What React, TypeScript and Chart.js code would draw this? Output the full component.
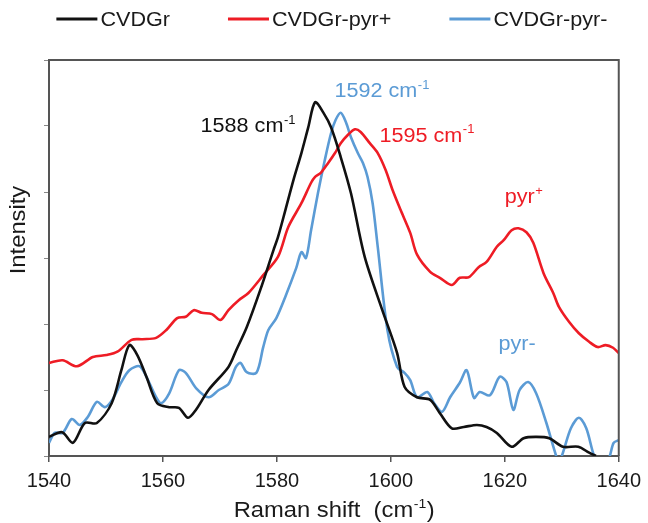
import React, { useEffect, useRef } from 'react';
import { Chart, registerables } from 'chart.js';

Chart.register(...registerables);

// ---------- data (Raman shift in cm^-1, intensity in arbitrary units) ----------
const shiftBlack = [1540, 1542.3, 1544.2, 1546.3, 1548.4, 1551.0, 1552.7, 1554.1, 1555.5, 1557.1, 1559.0, 1561.1, 1562.8, 1564.4, 1565.8, 1568.0, 1571.5, 1572.9, 1574.7, 1577.1, 1579.4, 1580.2, 1581.5, 1582.9, 1584.3, 1585.5, 1586.7, 1588.1, 1589.5, 1591.2, 1593.0, 1595.4, 1598.5, 1601.1, 1602.4, 1604.6, 1606.9, 1608.6, 1610.7, 1612.8, 1615.1, 1616.8, 1618.6, 1621.2, 1623.3, 1625.5, 1627.8, 1630.2, 1632.9, 1634.8, 1636.0];
const intensityBlack = [0.29, 0.36, 0.20, 0.50, 0.50, 0.80, 1.30, 1.68, 1.53, 1.20, 0.80, 0.74, 0.73, 0.58, 0.70, 1.00, 1.35, 1.61, 1.95, 2.52, 3.12, 3.32, 3.73, 4.18, 4.59, 4.98, 5.36, 5.21, 4.98, 4.53, 3.98, 3.02, 2.21, 1.56, 1.05, 0.89, 0.85, 0.65, 0.42, 0.44, 0.47, 0.44, 0.35, 0.14, 0.27, 0.29, 0.27, 0.14, 0.14, 0.05, 0.0];

const shiftRed = [1540, 1542.4, 1544.9, 1547.7, 1550.1, 1552.0, 1554.5, 1556.4, 1558.8, 1560.6, 1562.5, 1564.0, 1565.4, 1566.8, 1568.6, 1570.1, 1571.5, 1573.3, 1575.0, 1577.6, 1580.2, 1582.0, 1584.3, 1586.0, 1586.7, 1587.7, 1589.0, 1590.2, 1591.2, 1592.4, 1593.7, 1594.7, 1596.3, 1597.7, 1599.1, 1600.3, 1601.7, 1603.4, 1604.6, 1606.9, 1608.6, 1610.7, 1612.1, 1613.7, 1615.4, 1616.8, 1618.6, 1619.8, 1621.2, 1622.4, 1623.8, 1625.0, 1626.8, 1628.5, 1629.5, 1631.3, 1633.0, 1634.8, 1636.3, 1637.7, 1639.0, 1640.0];
const intensityRed = [1.41, 1.45, 1.36, 1.50, 1.53, 1.58, 1.76, 1.77, 1.79, 1.91, 2.09, 2.11, 2.21, 2.17, 2.15, 2.06, 2.21, 2.36, 2.47, 2.74, 3.02, 3.47, 3.83, 4.14, 4.23, 4.29, 4.44, 4.59, 4.74, 4.86, 4.95, 4.91, 4.74, 4.59, 4.33, 4.03, 3.73, 3.38, 3.05, 2.79, 2.70, 2.59, 2.70, 2.71, 2.86, 2.94, 3.17, 3.27, 3.42, 3.45, 3.39, 3.23, 2.77, 2.47, 2.26, 2.03, 1.86, 1.73, 1.65, 1.68, 1.64, 1.56];

const shiftBlue = [1540, 1541.0, 1542.4, 1544.0, 1545.4, 1546.8, 1548.4, 1549.8, 1551.1, 1552.7, 1554.1, 1555.9, 1557.1, 1558.8, 1559.7, 1561.1, 1562.8, 1564.0, 1565.8, 1568.0, 1569.8, 1571.5, 1572.8, 1573.6, 1574.7, 1576.4, 1577.6, 1578.5, 1579.9, 1581.6, 1583.4, 1584.3, 1585.1, 1586.0, 1587.2, 1588.4, 1589.5, 1590.3, 1591.2, 1592.1, 1593.0, 1594.2, 1595.1, 1595.9, 1596.8, 1597.7, 1599.4, 1601.1, 1602.4, 1603.4, 1604.6, 1606.4, 1607.6, 1609.0, 1610.4, 1612.1, 1613.3, 1614.6, 1615.6, 1617.4, 1619.1, 1620.3, 1621.5, 1622.6, 1624.1, 1625.5, 1627.3, 1628.7, 1629.5, 1630.2, 1631.6, 1633.0, 1634.3, 1635.6, 1636.9, 1638.3, 1639.1, 1640.0];
const intensityBlue = [0.20, 0.35, 0.35, 0.56, 0.47, 0.59, 0.82, 0.74, 0.85, 1.12, 1.30, 1.36, 1.20, 0.89, 0.80, 0.95, 1.30, 1.26, 1.03, 0.89, 1.00, 1.09, 1.35, 1.41, 1.27, 1.26, 1.65, 1.91, 2.09, 2.44, 2.85, 3.09, 3.00, 3.42, 3.98, 4.48, 4.89, 5.09, 5.20, 5.06, 4.83, 4.59, 4.44, 4.23, 3.83, 3.17, 1.91, 1.35, 1.26, 1.15, 0.89, 0.97, 0.80, 0.67, 0.89, 1.11, 1.30, 0.88, 0.97, 0.92, 1.20, 1.12, 0.70, 1.00, 1.12, 0.95, 0.50, 0.09, -0.09, 0.05, 0.42, 0.58, 0.42, 0.02, -0.21, -0.03, 0.20, 0.24];

const seriesNames = ['CVDGr', 'CVDGr-pyr+', 'CVDGr-pyr-'];
const seriesColors = ['#111111', '#ee1c25', '#5b9bd5'];
const xTickValues = [1540, 1560, 1580, 1600, 1620, 1640];

// peak annotations
const labelTexts = ['1588 cm', '1592 cm', '1595 cm', 'pyr', 'pyr-'];
const labelSups = ['-1', '-1', '-1', '+', ''];
const labelShifts = [1566.6, 1590.1, 1598.0, 1620.0, 1618.9];
const labelIntensities = [4.91, 5.44, 4.76, 3.83, 1.61];
const labelColorIdx = [0, 2, 1, 1, 2];

const FONT = '"Liberation Sans", Arial, Helvetica, sans-serif';
const STRETCH = 1.08;
const TEXT_COLOR = '#1a1a1a';

function toPoints(xs: number[], ys: number[]) {
  return xs.map((x, i) => ({ x, y: ys[i] }));
}

function drawRich(ctx: CanvasRenderingContext2D, base: string, sup: string, tail: string, x: number, y: number, size: number, color: string, align: 'left' | 'center') {
  ctx.save();
  ctx.fillStyle = color;
  ctx.textBaseline = 'alphabetic';
  ctx.textAlign = 'left';
  const supSize = Math.round(size * 0.6);
  ctx.font = `${size}px ${FONT}`;
  const wBase = ctx.measureText(base).width;
  const wTail = tail ? ctx.measureText(tail).width : 0;
  ctx.font = `${supSize}px ${FONT}`;
  const wSup = sup ? ctx.measureText(sup).width + 0.5 : 0;
  const total = (wBase + wSup + wTail) * STRETCH;
  const startX = align === 'center' ? x - total / 2 : x;
  ctx.translate(startX, y);
  ctx.scale(STRETCH, 1);
  ctx.font = `${size}px ${FONT}`;
  ctx.fillText(base, 0, 0);
  if (sup) {
    ctx.font = `${supSize}px ${FONT}`;
    ctx.fillText(sup, wBase + 0.5, -size * 0.42);
  }
  if (tail) {
    ctx.font = `${size}px ${FONT}`;
    ctx.fillText(tail, wBase + wSup + 0.5, 0);
  }
  ctx.restore();
}

const decorPlugin = {
  id: 'decor',
  afterDraw(chart: any) {
    const { ctx, chartArea, scales } = chart;
    const { left, right, top, bottom } = chartArea;
    // frame top and right
    ctx.save();
    ctx.strokeStyle = '#555555';
    ctx.lineWidth = 2;
    ctx.beginPath();
    ctx.moveTo(left - 1, top);
    ctx.lineTo(right, top);
    ctx.lineTo(right, bottom);
    ctx.stroke();
    ctx.restore();

    // legend
    const fs = 20;
    ctx.save();
    ctx.font = `${fs}px ${FONT}`;
    const lineLen = 41;
    const gapAfterLine = 3;
    const itemGap = 58;
    const widths = seriesNames.map((n) => ctx.measureText(n).width * STRETCH);
    const totalW = widths.reduce((a, w) => a + lineLen + gapAfterLine + w, 0) + itemGap * (seriesNames.length - 1);
    let cx = (left + right) / 2 - totalW / 2 - 2;
    const ly = 19;
    seriesNames.forEach((name, i) => {
      ctx.strokeStyle = seriesColors[i];
      ctx.lineWidth = 3;
      ctx.beginPath();
      ctx.moveTo(cx, ly);
      ctx.lineTo(cx + lineLen, ly);
      ctx.stroke();
      ctx.save();
      ctx.fillStyle = TEXT_COLOR;
      ctx.textBaseline = 'middle';
      ctx.translate(cx + lineLen + gapAfterLine, ly + 1);
      ctx.scale(STRETCH, 1);
      ctx.fillText(name, 0, 0);
      ctx.restore();
      cx += lineLen + gapAfterLine + widths[i] + itemGap;
    });
    ctx.restore();

    // y axis title
    ctx.save();
    ctx.fillStyle = TEXT_COLOR;
    ctx.font = `22px ${FONT}`;
    ctx.textAlign = 'center';
    ctx.textBaseline = 'middle';
    ctx.translate(19, 230);
    ctx.rotate(-Math.PI / 2);
    ctx.scale(STRETCH, 1);
    ctx.fillText('Intensity', 0, 0);
    ctx.restore();

    // x axis title
    drawRich(ctx, 'Raman shift  (cm', '-1', ')', (left + right) / 2, 517, 22, TEXT_COLOR, 'center');

    // peak labels
    const xs = scales.x;
    const ys = scales.y;
    labelTexts.forEach((t, i) => {
      const px = xs.getPixelForValue(labelShifts[i]);
      const py = ys.getPixelForValue(labelIntensities[i]);
      drawRich(ctx, t, labelSups[i], '', px, py, 20, seriesColors[labelColorIdx[i]], 'left');
    });
  },
};

export default function App() {
  const ref = useRef<HTMLCanvasElement>(null);
  useEffect(() => {
    if (!ref.current) return;
    const datasets = [
      { label: seriesNames[0], data: toPoints(shiftBlack, intensityBlack) },
      { label: seriesNames[1], data: toPoints(shiftRed, intensityRed) },
      { label: seriesNames[2], data: toPoints(shiftBlue, intensityBlue) },
    ].map((d, i) => ({
      ...d,
      borderColor: seriesColors[i],
      backgroundColor: seriesColors[i],
      borderWidth: 2.6,
      pointRadius: 0,
      tension: 0.3,
      fill: false,
    }));
    const chart = new Chart(ref.current, {
      type: 'line',
      data: { datasets },
      options: {
        animation: false,
        responsive: true,
        maintainAspectRatio: false,
        layout: { padding: { top: 60, right: 25, left: 0, bottom: 0 } },
        plugins: { legend: { display: false }, tooltip: { enabled: false } },
        scales: {
          x: {
            type: 'linear',
            min: 1540,
            max: 1640,
            afterBuildTicks: (s: any) => {
              s.ticks = xTickValues.map((v) => ({ value: v }));
            },
            afterFit: (s: any) => {
              s.height = 67;
            },
            ticks: {
              color: TEXT_COLOR,
              font: { size: 20, family: FONT },
              padding: 7,
              maxRotation: 0,
              autoSkip: false,
              callback: (v: any) => String(v),
            },
            grid: { drawOnChartArea: false, drawTicks: true, tickLength: 6, color: '#555555', lineWidth: 1.5 },
            border: { display: true, color: '#555555', width: 2 },
          },
          y: {
            type: 'linear',
            min: 0,
            max: 6,
            afterFit: (s: any) => {
              s.width = 49;
            },
            ticks: { display: false, stepSize: 1 },
            grid: { drawOnChartArea: false, drawTicks: true, tickLength: 5, color: '#888888', lineWidth: 1 },
            border: { display: true, color: '#555555', width: 2 },
          },
        },
      },
      plugins: [decorPlugin],
    });
    return () => chart.destroy();
  }, []);
  return (
    <div style={{ position: 'fixed', left: 0, top: 0, width: 648, height: 523, background: '#ffffff' }}>
      <canvas ref={ref} />
    </div>
  );
}
